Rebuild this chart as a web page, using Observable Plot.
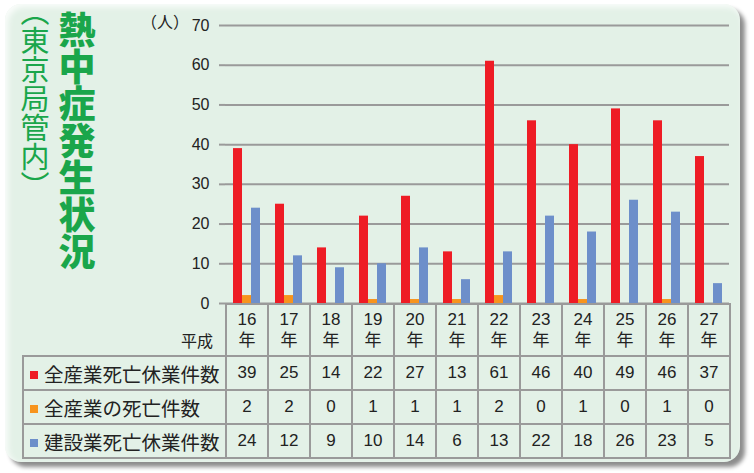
<!DOCTYPE html>
<html>
<head>
<meta charset="utf-8">
<script src="https://cdn.jsdelivr.net/npm/d3@7"></script>
<script src="https://cdn.jsdelivr.net/npm/@observablehq/plot@0.6"></script>
<style>
  html, body { margin: 0; padding: 0; background: #ffffff; }
  body { width: 754px; height: 473px; position: relative; overflow: hidden;
         font-family: "Liberation Sans", "Noto Sans CJK JP", sans-serif; color: #222; }
  #card { position: absolute; left: 5px; top: 4px; width: 735px; height: 458px;
          border-radius: 16px; background: #e3f1e7;
          box-shadow: 5px 5px 4px rgba(0,0,0,0.45), inset 3px 3px 6px rgba(255,255,255,0.85); }
  .vt { position: absolute; writing-mode: vertical-rl; line-height: 1; color: #1aa64b;
        font-family: "Noto Sans CJK JP", sans-serif; white-space: nowrap; }
  #title { left: 58px; top: 11px; font-size: 37px; font-weight: 900; }
  #subtitle { left: 20px; top: 12px; font-size: 29px; font-weight: 400; font-feature-settings: "vhal" 1; }
  #unit { position: absolute; left: 149px; top: 9px; font-size: 16px; color: #222;
          font-family: "Noto Sans CJK JP", sans-serif; font-feature-settings: "halt" 1; }
  #chart { position: absolute; left: 0; top: 0; }
  #tbl { position: absolute; left: 22px; top: 303px; border-collapse: collapse; table-layout: fixed; }
  #tbl td { border: 2px solid #9a9a9a; padding: 0; text-align: center; font-size: 17px; }
  #tbl tr.yr td { height: 48px; line-height: 21px; }
  #tbl tr.yr td.corner { border-left: none; border-top: none; text-align: right; padding-right: 12px;
                          vertical-align: bottom; padding-bottom: 3px; font-size: 16px; }
  #tbl tr.dat td { height: 32px; }
  #tbl td.lab { text-align: left; font-size: 19.5px; font-family: "Noto Sans CJK JP", sans-serif;
                padding-left: 6px; white-space: nowrap; letter-spacing: 0px; }
  .sq { display: inline-block; width: 8px; height: 8px; margin-right: 6px; vertical-align: 3px; }
</style>
</head>
<body>
<div id="card"></div>
<div id="subtitle" class="vt"></div>
<div id="title" class="vt"></div>
<div id="unit"></div>
<div id="chart"></div>
<table id="tbl"></table>
<script>
// ---- data ----
const title = "熱中症発生状況";
const subtitle = "（東京局管内）";
const unitLabel = "（人）";
const eraLabel = "平成";
const years = ["16", "17", "18", "19", "20", "21", "22", "23", "24", "25", "26", "27"];
const yearSuffix = "年";
const seriesNames = ["全産業死亡休業件数", "全産業の死亡件数", "建設業死亡休業件数"];
const allIndustryLost = [39, 25, 14, 22, 27, 13, 61, 46, 40, 49, 46, 37];
const allIndustryDeaths = [2, 2, 0, 1, 1, 1, 2, 0, 1, 0, 1, 0];
const constructionLost = [24, 12, 9, 10, 14, 6, 13, 22, 18, 26, 23, 5];
const seriesColors = ["#ee1c25", "#f7941d", "#6d8fca"];
const yTicks = [0, 10, 20, 30, 40, 50, 60, 70];

const seriesValues = [allIndustryLost, allIndustryDeaths, constructionLost];
const rows = [];
years.forEach((yr, i) => seriesNames.forEach((s, j) => rows.push({year: yr, series: s, value: seriesValues[j][i]})));

document.getElementById("title").textContent = title;
document.getElementById("subtitle").textContent = subtitle;
document.getElementById("unit").textContent = unitLabel;

const gridColor = "#9a9a9a";
const chart = Plot.plot({
  width: 754,
  height: 310,
  marginLeft: 225,
  marginRight: 25,
  marginTop: 25,
  marginBottom: 7,
  style: {background: "transparent", fontFamily: "'Liberation Sans', Arial, sans-serif", fontSize: "16px", color: "#222", overflow: "visible"},
  fx: {domain: years, padding: 0, axis: null},
  x: {domain: seriesNames, paddingInner: 0, paddingOuter: 0.75, axis: null},
  y: {domain: [0, 70], axis: null},
  color: {domain: seriesNames, range: seriesColors},
  marks: [
    Plot.gridY(yTicks, {stroke: gridColor, strokeOpacity: 1, strokeWidth: 2}),
    Plot.barY(rows, {fx: "year", x: "series", y: "value", fill: "series"}),
    Plot.axisY(yTicks, {anchor: "left", tickSize: 6, tickPadding: 10, stroke: gridColor, strokeWidth: 2, line: true, fill: "#222", label: null}),
    Plot.axisY(yTicks, {anchor: "right", tickSize: 0, stroke: gridColor, strokeWidth: 2, line: true, tickFormat: () => "", label: null})
  ]
});
document.getElementById("chart").appendChild(chart);

// ---- table ----
const tbl = document.getElementById("tbl");
const colgroup = document.createElement("colgroup");
const c0 = document.createElement("col"); c0.style.width = "203px"; colgroup.appendChild(c0);
years.forEach(() => { const c = document.createElement("col"); c.style.width = "42px"; colgroup.appendChild(c); });
tbl.appendChild(colgroup);

const yr = document.createElement("tr"); yr.className = "yr";
const corner = document.createElement("td"); corner.className = "corner"; corner.textContent = eraLabel; yr.appendChild(corner);
years.forEach(y => { const td = document.createElement("td"); td.innerHTML = y + "<br>" + yearSuffix; yr.appendChild(td); });
tbl.appendChild(yr);

seriesNames.forEach((s, j) => {
  const tr = document.createElement("tr"); tr.className = "dat";
  const lab = document.createElement("td"); lab.className = "lab";
  const sq = document.createElement("span"); sq.className = "sq"; sq.style.background = seriesColors[j];
  lab.appendChild(sq); lab.appendChild(document.createTextNode(s));
  tr.appendChild(lab);
  seriesValues[j].forEach(v => { const td = document.createElement("td"); td.textContent = v; tr.appendChild(td); });
  tbl.appendChild(tr);
});
</script>
</body>
</html>
